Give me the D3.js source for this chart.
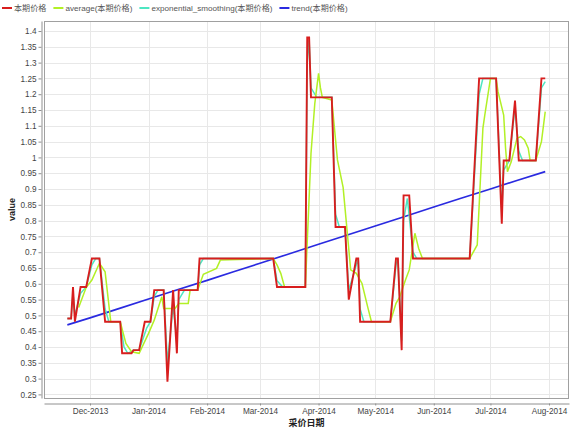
<!DOCTYPE html>
<html>
<head>
<meta charset="utf-8">
<script src="https://cdn.jsdelivr.net/npm/d3@7"></script>
<style>
  body { margin: 0; background: #fff; }
  text { font-family: "Liberation Sans", Arial, "Noto Sans CJK SC", sans-serif; }
</style>
</head>
<body>
<div id="chart"></div>
<script>
// series names (legend order)
const seriesNames = ["本期价格", "average(本期价格)", "exponential_smoothing(本期价格)", "trend(本期价格)"];

// 本期价格
const priceDates = ["2013-11-19", "2013-11-21", "2013-11-22", "2013-11-23", "2013-11-26", "2013-11-29", "2013-12-02", "2013-12-06",
    "2013-12-09", "2013-12-17", "2013-12-18", "2013-12-23", "2013-12-24", "2013-12-27", "2013-12-30", "2014-01-02",
    "2014-01-04", "2014-01-09", "2014-01-11", "2014-01-14", "2014-01-16", "2014-01-17", "2014-01-27", "2014-01-28",
    "2014-03-08", "2014-03-10", "2014-03-25", "2014-03-26", "2014-03-27", "2014-03-28", "2014-04-08", "2014-04-10",
    "2014-04-15", "2014-04-17", "2014-04-21", "2014-04-22", "2014-04-23", "2014-05-09", "2014-05-12", "2014-05-13",
    "2014-05-15", "2014-05-16", "2014-05-19", "2014-05-21", "2014-06-20", "2014-06-25", "2014-07-04", "2014-07-07",
    "2014-07-08", "2014-07-11", "2014-07-14", "2014-07-16", "2014-07-25", "2014-07-28", "2014-07-30"];
const priceValues = [0.49, 0.49, 0.59, 0.48, 0.59, 0.59, 0.68, 0.68,
    0.48, 0.48, 0.38, 0.38, 0.39, 0.39, 0.48, 0.48,
    0.58, 0.58, 0.29, 0.58, 0.38, 0.58, 0.58, 0.68,
    0.68, 0.59, 0.59, 1.38, 1.38, 1.19, 1.19, 0.78,
    0.78, 0.55, 0.68, 0.68, 0.48, 0.48, 0.68, 0.68,
    0.39, 0.88, 0.88, 0.68, 0.68, 1.25, 1.25, 0.79,
    0.99, 0.99, 1.18, 0.99, 0.99, 1.25, 1.25];

// average(本期价格)
const avgDates = ["2013-11-25", "2013-11-29", "2013-12-02", "2013-12-06", "2013-12-09", "2013-12-12", "2013-12-17", "2013-12-20",
    "2013-12-23", "2013-12-27", "2014-01-01", "2014-01-04", "2014-01-08", "2014-01-09", "2014-01-15", "2014-01-17",
    "2014-01-22", "2014-01-23", "2014-01-27", "2014-01-30", "2014-02-06", "2014-02-08", "2014-03-08", "2014-03-10",
    "2014-03-12", "2014-03-14", "2014-03-25", "2014-03-28", "2014-03-30", "2014-04-01", "2014-04-02", "2014-04-03",
    "2014-04-08", "2014-04-11", "2014-04-14", "2014-04-16", "2014-04-18", "2014-04-21", "2014-04-24", "2014-04-27",
    "2014-04-29", "2014-05-09", "2014-05-12", "2014-05-14", "2014-05-17", "2014-05-19", "2014-05-22", "2014-05-24",
    "2014-05-26", "2014-06-20", "2014-06-24", "2014-06-27", "2014-06-28", "2014-07-01", "2014-07-04", "2014-07-05",
    "2014-07-08", "2014-07-09", "2014-07-10", "2014-07-12", "2014-07-15", "2014-07-17", "2014-07-19", "2014-07-21",
    "2014-07-22", "2014-07-25", "2014-07-28", "2014-07-30"];
const avgValues = [0.525, 0.589, 0.612, 0.665, 0.638, 0.48, 0.48, 0.411,
    0.385, 0.38, 0.443, 0.485, 0.559, 0.522, 0.522, 0.538,
    0.538, 0.58, 0.58, 0.63, 0.649, 0.675, 0.68, 0.66,
    0.633, 0.59, 0.59, 1.013, 1.17, 1.266, 1.22, 1.19,
    1.182, 0.992, 0.905, 0.775, 0.644, 0.633, 0.601, 0.527,
    0.48, 0.48, 0.538, 0.559, 0.612, 0.644, 0.76, 0.712,
    0.68, 0.68, 0.723, 1.092, 1.134, 1.25, 1.25, 1.208,
    1.134, 1.029, 0.955, 0.986, 1.06, 1.066, 1.055, 1.029,
    0.99, 0.99, 1.05, 1.145];

// exponential_smoothing(本期价格)
const esDates = ["2013-11-19", "2013-11-21", "2013-11-22", "2013-11-23", "2013-11-26", "2013-11-29", "2013-12-02", "2013-12-04",
    "2013-12-06", "2013-12-09", "2013-12-11", "2013-12-17", "2013-12-19", "2013-12-21", "2013-12-24", "2013-12-27",
    "2013-12-31", "2014-01-02", "2014-01-04", "2014-01-06", "2014-01-09", "2014-01-11", "2014-01-14", "2014-01-16",
    "2014-01-17", "2014-01-20", "2014-01-27", "2014-01-28", "2014-01-30", "2014-03-08", "2014-03-10", "2014-03-13",
    "2014-03-25", "2014-03-26", "2014-03-27", "2014-03-28", "2014-03-31", "2014-04-08", "2014-04-10", "2014-04-12",
    "2014-04-15", "2014-04-17", "2014-04-21", "2014-04-22", "2014-04-23", "2014-04-25", "2014-05-09", "2014-05-12",
    "2014-05-13", "2014-05-15", "2014-05-16", "2014-05-18", "2014-05-21", "2014-05-23", "2014-06-20", "2014-06-25",
    "2014-06-27", "2014-07-04", "2014-07-07", "2014-07-08", "2014-07-11", "2014-07-14", "2014-07-16", "2014-07-18",
    "2014-07-25", "2014-07-28", "2014-07-30"];
const esValues = [0.49, 0.49, 0.57, 0.50, 0.57, 0.59, 0.66, 0.68,
    0.68, 0.52, 0.48, 0.48, 0.40, 0.38, 0.39, 0.39,
    0.46, 0.48, 0.56, 0.58, 0.58, 0.35, 0.53, 0.42,
    0.55, 0.58, 0.58, 0.66, 0.68, 0.68, 0.61, 0.59,
    0.59, 1.30, 1.37, 1.22, 1.19, 1.19, 0.82, 0.78,
    0.78, 0.58, 0.66, 0.68, 0.52, 0.48, 0.48, 0.66,
    0.68, 0.42, 0.80, 0.87, 0.70, 0.68, 0.68, 1.20,
    1.25, 1.25, 0.83, 0.96, 0.99, 1.16, 1.02, 0.99,
    0.99, 1.22, 1.24];

// trend(本期价格)
const trendDates = ["2013-11-19", "2013-12-01", "2013-12-15", "2014-01-01", "2014-01-15", "2014-02-01", "2014-02-15", "2014-03-01",
    "2014-03-15", "2014-04-01", "2014-04-15", "2014-05-01", "2014-05-15", "2014-06-01", "2014-06-15", "2014-07-01",
    "2014-07-15", "2014-07-30"];
const trendValues = [0.47, 0.492, 0.519, 0.552, 0.579, 0.611, 0.638, 0.665,
    0.692, 0.725, 0.752, 0.783, 0.810, 0.843, 0.870, 0.900,
    0.927, 0.955];

// axis ticks
const monthTicks = ["2013-12-01", "2014-01-01", "2014-02-01", "2014-03-01", "2014-04-01", "2014-05-01", "2014-06-01", "2014-07-01", "2014-08-01"];
const valueTicks = [0.25, 0.3, 0.35, 0.4, 0.45, 0.5, 0.55, 0.6, 0.65, 0.7, 0.75, 0.8, 0.85, 0.9, 0.95,
    1, 1.05, 1.1, 1.15, 1.2, 1.25, 1.3, 1.35, 1.4];
const xDomain = ["2013-11-06T15:30", "2014-08-11T14:00"];
const yDomain = [0.2386, 1.4317];

const colors = ["#d81e1e", "#b2f026", "#4ee6c2", "#2a2ae0"];

const WIDTH = 577, HEIGHT = 429;
const plot = {left: 44, top: 21, right: 569, bottom: 398};

const parseDay = d3.timeParse("%Y-%m-%d");
const parseTime = d3.timeParse("%Y-%m-%dT%H:%M");

const zip = (dates, values) => dates.map((d, i) => ({date: parseDay(d), value: values[i]}));
const series = [
    zip(priceDates, priceValues),
    zip(avgDates, avgValues),
    zip(esDates, esValues),
    zip(trendDates, trendValues)
];

const svg = d3.select("#chart")
              .append("svg")
                .attr("width", WIDTH)
                .attr("height", HEIGHT);

const x = d3.scaleTime()
            .domain(xDomain.map(parseTime))
            .range([plot.left, plot.right]);
const y = d3.scaleLinear()
            .domain(yDomain)
            .range([plot.bottom, plot.top]);

// gridlines
svg.append("g")
   .selectAll("line")
   .data(valueTicks)
   .join("line")
     .attr("x1", plot.left).attr("x2", plot.right)
     .attr("y1", d => Math.round(y(d)) + 0.5).attr("y2", d => Math.round(y(d)) + 0.5)
     .attr("stroke", "#e8e8e8");
svg.append("g")
   .selectAll("line")
   .data(monthTicks.map(parseDay))
   .join("line")
     .attr("y1", plot.top).attr("y2", plot.bottom)
     .attr("x1", d => Math.round(x(d)) + 0.5).attr("x2", d => Math.round(x(d)) + 0.5)
     .attr("stroke", "#e8e8e8");

// plot outline
svg.append("rect")
   .attr("x", plot.left + 0.5).attr("y", plot.top + 0.5)
   .attr("width", plot.right - plot.left - 1).attr("height", plot.bottom - plot.top)
   .attr("fill", "none")
   .attr("stroke", "#a0a0a0");

// Y axis
const yAxis = svg.append("g")
   .attr("transform", "translate(41.5,0)")
   .call(d3.axisLeft(y).tickValues(valueTicks).tickFormat(d3.format("~g")).tickSize(3).tickSizeOuter(0).tickPadding(2));
// X axis
const xAxis = svg.append("g")
   .attr("transform", `translate(0,${plot.bottom + 5.5})`)
   .call(d3.axisBottom(x).tickValues(monthTicks.map(parseDay)).tickFormat(d3.timeFormat("%b-%Y")).tickSize(2).tickSizeOuter(0).tickPadding(3));
[yAxis, xAxis].forEach(ax => {
    ax.select(".domain").attr("stroke", "#909090");
    ax.selectAll(".tick line").attr("stroke", "#909090");
    ax.selectAll(".tick text").attr("fill", "#444").style("font-size", "8.2px").style("font-family", "'Liberation Sans', Arial, sans-serif");
});

// axis titles
svg.append("text")
   .text("value")
   .attr("transform", `translate(15,${(plot.top + plot.bottom) / 2}) rotate(-90)`)
   .attr("text-anchor", "middle")
   .style("font-size", "9px")
   .style("font-weight", "bold")
   .attr("fill", "#222");
svg.append("text")
   .text("采价日期")
   .attr("x", (plot.left + plot.right) / 2)
   .attr("y", 426)
   .attr("text-anchor", "middle")
   .style("font-size", "9px")
   .style("font-weight", "bold")
   .style("font-family", "'Noto Sans CJK SC', sans-serif")
   .attr("fill", "#222");

// lines, drawn so that the price sits on top
svg.append("clipPath").attr("id", "clip")
   .append("rect")
   .attr("x", plot.left).attr("y", plot.top)
   .attr("width", plot.right - plot.left).attr("height", plot.bottom - plot.top);

const line = d3.line().x(d => x(d.date)).y(d => y(d.value));
const widths = [1.9, 1.5, 1.5, 1.7];
svg.append("g")
   .attr("clip-path", "url(#clip)")
   .selectAll("path")
   .data([3, 2, 1, 0])
   .join("path")
     .attr("d", i => line(series[i]))
     .attr("fill", "none")
     .attr("stroke", i => colors[i])
     .attr("stroke-width", i => widths[i])
     .attr("stroke-linejoin", "miter");

// legend across the top
const legend = svg.append("g").attr("transform", "translate(2,8)");
let lx = 0;
seriesNames.forEach((name, i) => {
    legend.append("line")
       .attr("x1", lx).attr("x2", lx + 10)
       .attr("y1", 0).attr("y2", 0)
       .attr("stroke", colors[i])
       .attr("stroke-width", 2);
    const t = legend.append("text")
       .text(name)
       .attr("x", lx + 12)
       .attr("y", 3)
       .style("font-size", "8.1px")
       .attr("fill", "#555");
    lx += 12 + t.node().getComputedTextLength() + 7;
});
</script>
</body>
</html>
